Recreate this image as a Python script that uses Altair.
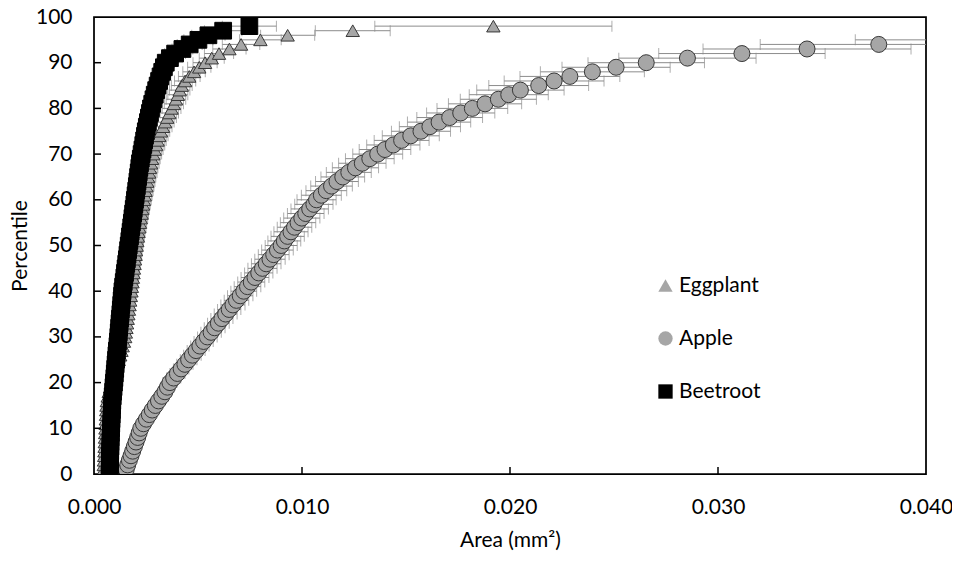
import altair as alt
import pandas as pd

series_names = ["Eggplant", "Apple", "Beetroot"]

# percentile levels
eggplant_pct = list(range(0, 99))
apple_pct = list(range(0, 96))
beetroot_pct = list(range(0, 99))

eggplant_area = [
    0.00045, 0.00046, 0.00047, 0.00048, 0.00049, 0.00050, 0.00051, 0.00052, 0.00053, 0.00054,
    0.00055, 0.00056, 0.00057, 0.00058, 0.00059, 0.00060, 0.00062, 0.00066, 0.00071, 0.00077,
    0.00084, 0.00091, 0.00098, 0.00105, 0.00112, 0.00119, 0.00126, 0.00132, 0.00138, 0.00144,
    0.00150, 0.00153, 0.00156, 0.00159, 0.00162, 0.00165, 0.00168, 0.00171, 0.00174, 0.00177,
    0.00180, 0.00182, 0.00185, 0.00187, 0.00190, 0.00192, 0.00195, 0.00197, 0.00200, 0.00202,
    0.00205, 0.00208, 0.00211, 0.00214, 0.00218, 0.00221, 0.00225, 0.00229, 0.00232, 0.00236,
    0.00240, 0.00244, 0.00248, 0.00252, 0.00256, 0.00260, 0.00265, 0.00269, 0.00274, 0.00279,
    0.00285, 0.00292, 0.00299, 0.00306, 0.00314, 0.00322, 0.00332, 0.00342, 0.00352, 0.00362,
    0.00373, 0.00384, 0.00394, 0.00403, 0.00412, 0.00422, 0.00438, 0.00458, 0.00481, 0.00506,
    0.00534, 0.00566, 0.00601, 0.00651, 0.00707, 0.00800, 0.00931, 0.01244, 0.01920,
]
eggplant_err = [
    0.00010, 0.00010, 0.00010, 0.00011, 0.00011, 0.00011, 0.00012, 0.00012, 0.00012, 0.00013,
    0.00013, 0.00013, 0.00014, 0.00014, 0.00014, 0.00015, 0.00015, 0.00015, 0.00016, 0.00016,
    0.00016, 0.00017, 0.00017, 0.00017, 0.00018, 0.00018, 0.00018, 0.00019, 0.00019, 0.00019,
    0.00020, 0.00020, 0.00021, 0.00021, 0.00022, 0.00022, 0.00023, 0.00023, 0.00024, 0.00024,
    0.00025, 0.00025, 0.00026, 0.00026, 0.00027, 0.00027, 0.00028, 0.00028, 0.00029, 0.00029,
    0.00030, 0.00030, 0.00031, 0.00031, 0.00032, 0.00032, 0.00033, 0.00033, 0.00034, 0.00034,
    0.00035, 0.00035, 0.00036, 0.00036, 0.00037, 0.00037, 0.00038, 0.00038, 0.00039, 0.00039,
    0.00040, 0.00040, 0.00041, 0.00041, 0.00042, 0.00042, 0.00043, 0.00043, 0.00044, 0.00044,
    0.00045, 0.00046, 0.00047, 0.00048, 0.00049, 0.00050, 0.00051, 0.00052, 0.00054, 0.00056,
    0.00058, 0.00060, 0.00070, 0.00080, 0.00090, 0.00100, 0.00130, 0.00180, 0.00570,
]

apple_area = [
    0.00150, 0.00155, 0.00162, 0.00170, 0.00178, 0.00186, 0.00194, 0.00202, 0.00210, 0.00217,
    0.00225, 0.00238, 0.00252, 0.00266, 0.00280, 0.00295, 0.00310, 0.00326, 0.00341, 0.00353,
    0.00365, 0.00383, 0.00401, 0.00419, 0.00437, 0.00455, 0.00473, 0.00491, 0.00509, 0.00527,
    0.00545, 0.00563, 0.00580, 0.00598, 0.00615, 0.00633, 0.00650, 0.00668, 0.00685, 0.00703,
    0.00720, 0.00738, 0.00756, 0.00774, 0.00792, 0.00810, 0.00828, 0.00846, 0.00864, 0.00882,
    0.00900, 0.00915, 0.00931, 0.00947, 0.00964, 0.00981, 0.00999, 0.01018, 0.01037, 0.01057,
    0.01070, 0.01093, 0.01117, 0.01142, 0.01168, 0.01196, 0.01225, 0.01257, 0.01290, 0.01326,
    0.01364, 0.01399, 0.01439, 0.01479, 0.01523, 0.01572, 0.01615, 0.01659, 0.01710, 0.01763,
    0.01819, 0.01880, 0.01944, 0.01994, 0.02050, 0.02138, 0.02212, 0.02288, 0.02396, 0.02510,
    0.02655, 0.02853, 0.03115, 0.03428, 0.03773, 0.04250,
]
apple_err = [
    0.00008, 0.00009, 0.00010, 0.00011, 0.00012, 0.00013, 0.00014, 0.00015, 0.00016, 0.00017,
    0.00018, 0.00020, 0.00021, 0.00023, 0.00024, 0.00026, 0.00027, 0.00029, 0.00030, 0.00031,
    0.00033, 0.00034, 0.00036, 0.00037, 0.00039, 0.00040, 0.00042, 0.00043, 0.00044, 0.00046,
    0.00047, 0.00049, 0.00050, 0.00052, 0.00053, 0.00055, 0.00056, 0.00058, 0.00059, 0.00061,
    0.00062, 0.00064, 0.00065, 0.00067, 0.00068, 0.00070, 0.00071, 0.00073, 0.00074, 0.00076,
    0.00077, 0.00079, 0.00080, 0.00082, 0.00083, 0.00085, 0.00087, 0.00088, 0.00090, 0.00092,
    0.00094, 0.00096, 0.00098, 0.00100, 0.00103, 0.00105, 0.00108, 0.00111, 0.00114, 0.00117,
    0.00120, 0.00124, 0.00128, 0.00132, 0.00137, 0.00142, 0.00147, 0.00152, 0.00158, 0.00164,
    0.00170, 0.00176, 0.00183, 0.00190, 0.00210, 0.00240, 0.00240, 0.00240, 0.00250, 0.00260,
    0.00280, 0.00330, 0.00400, 0.00500, 0.00570, 0.00590,
]

beetroot_area = [
    0.00075, 0.00076, 0.00076, 0.00077, 0.00077, 0.00078, 0.00079, 0.00079, 0.00080, 0.00081,
    0.00082, 0.00083, 0.00084, 0.00085, 0.00086, 0.00087, 0.00088, 0.00090, 0.00092, 0.00094,
    0.00096, 0.00098, 0.00100, 0.00102, 0.00104, 0.00106, 0.00108, 0.00110, 0.00113, 0.00115,
    0.00117, 0.00119, 0.00121, 0.00123, 0.00125, 0.00127, 0.00129, 0.00131, 0.00133, 0.00135,
    0.00137, 0.00140, 0.00143, 0.00146, 0.00149, 0.00152, 0.00155, 0.00158, 0.00161, 0.00164,
    0.00167, 0.00170, 0.00173, 0.00176, 0.00179, 0.00182, 0.00185, 0.00188, 0.00191, 0.00194,
    0.00197, 0.00200, 0.00203, 0.00206, 0.00209, 0.00212, 0.00215, 0.00218, 0.00221, 0.00225,
    0.00229, 0.00233, 0.00237, 0.00241, 0.00245, 0.00249, 0.00254, 0.00259, 0.00264, 0.00269,
    0.00274, 0.00280, 0.00286, 0.00292, 0.00299, 0.00306, 0.00313, 0.00320, 0.00328, 0.00336,
    0.00345, 0.00365, 0.00390, 0.00425, 0.00460, 0.00502, 0.00550, 0.00621, 0.00747,
]
beetroot_err = [
    0.00005, 0.00005, 0.00005, 0.00006, 0.00006, 0.00006, 0.00007, 0.00007, 0.00007, 0.00008,
    0.00008, 0.00008, 0.00009, 0.00009, 0.00009, 0.00010, 0.00010, 0.00010, 0.00011, 0.00011,
    0.00011, 0.00012, 0.00012, 0.00012, 0.00013, 0.00013, 0.00013, 0.00014, 0.00014, 0.00014,
    0.00015, 0.00015, 0.00015, 0.00016, 0.00016, 0.00016, 0.00017, 0.00017, 0.00017, 0.00018,
    0.00018, 0.00018, 0.00019, 0.00019, 0.00019, 0.00020, 0.00020, 0.00020, 0.00021, 0.00021,
    0.00021, 0.00022, 0.00022, 0.00023, 0.00023, 0.00024, 0.00024, 0.00025, 0.00025, 0.00026,
    0.00026, 0.00027, 0.00027, 0.00028, 0.00028, 0.00029, 0.00029, 0.00030, 0.00030, 0.00031,
    0.00031, 0.00032, 0.00032, 0.00033, 0.00033, 0.00034, 0.00034, 0.00035, 0.00035, 0.00036,
    0.00036, 0.00037, 0.00037, 0.00038, 0.00038, 0.00039, 0.00039, 0.00040, 0.00040, 0.00041,
    0.00041, 0.00042, 0.00050, 0.00050, 0.00060, 0.00070, 0.00080, 0.00090, 0.00130,
]

x_tick_values = [0.0, 0.01, 0.02, 0.03, 0.04]
y_tick_values = [0, 10, 20, 30, 40, 50, 60, 70, 80, 90, 100]
x_inner_ticks = [0.01, 0.02, 0.03]
y_inner_ticks = [10, 20, 30, 40, 50, 60, 70, 80, 90]

FONT = "Lato"
W, H = 832, 457

rows = []
for name, pcts, areas, errs in [
    ("Eggplant", eggplant_pct, eggplant_area, eggplant_err),
    ("Apple", apple_pct, apple_area, apple_err),
    ("Beetroot", beetroot_pct, beetroot_area, beetroot_err),
]:
    for p, a, e in zip(pcts, areas, errs):
        rows.append({"series": name, "pct": p, "area": a, "lo": a - e, "hi": a + e})
df = pd.DataFrame(rows)

caps = pd.concat([
    df[["series", "pct", "lo"]].rename(columns={"lo": "cx"}),
    df[["series", "pct", "hi"]].rename(columns={"hi": "cx"}),
], ignore_index=True)

xscale = alt.Scale(domain=[0, 0.04], nice=False, zero=False, padding=0)
yscale = alt.Scale(domain=[0, 100], nice=False, padding=0)

x_axis = alt.Axis(
    values=x_tick_values, format=".3f", grid=False, ticks=False, domain=False,
    labelFlush=False, labelOverlap=False,
    labelFont=FONT, labelFontSize=21, labelColor="#000", labelPadding=22,
    title="Area (mm²)", titleFont=FONT, titleFontSize=21, titleFontWeight="normal",
    titleColor="#000", titleX=W / 2, titleY=66, titleBaseline="middle",
)
y_axis = alt.Axis(
    values=y_tick_values, grid=False, ticks=False, domain=False,
    labelFlush=False, labelOverlap=False,
    labelFont=FONT, labelFontSize=21, labelColor="#000", labelPadding=22,
    title="Percentile", titleFont=FONT, titleFontSize=21, titleFontWeight="normal",
    titleColor="#000", titleX=-74, titleY=H / 2, titleBaseline="middle", titleAlign="center",
)

ERR_COLOR = "#8c8c8c"

bars = alt.Chart(df).mark_rule(color=ERR_COLOR, strokeWidth=1, clip=True).encode(
    x=alt.X("lo:Q", scale=xscale, axis=x_axis),
    x2="hi:Q",
    y=alt.Y("pct:Q", scale=yscale, axis=y_axis),
)
cap_marks = alt.Chart(caps).mark_tick(
    color=ERR_COLOR, orient="vertical", size=11, thickness=1, clip=True
).encode(
    x=alt.X("cx:Q", scale=xscale),
    y=alt.Y("pct:Q", scale=yscale),
)

leg = alt.Legend(
    title=None, orient="none", legendX=561, legendY=258,
    labelFont=FONT, labelFontSize=21, labelColor="#000", symbolSize=205,
    rowPadding=31, labelOffset=3, symbolStrokeColor="#333333", symbolStrokeWidth=1,
)

points = alt.Chart(df).mark_point(filled=True, opacity=1, strokeWidth=1, clip=True).encode(
    x=alt.X("area:Q", scale=xscale),
    y=alt.Y("pct:Q", scale=yscale),
    shape=alt.Shape("series:N", scale=alt.Scale(domain=series_names, range=["triangle-up", "circle", "square"]),
                    legend=leg),
    fill=alt.Fill("series:N", scale=alt.Scale(domain=series_names, range=["#a6a6a6", "#a6a6a6", "#000000"]),
                  legend=leg),
    stroke=alt.StrokeValue("#383838", condition={"test": "datum.series === 'Beetroot'", "value": "#000000"}),
    size=alt.SizeValue(256, condition=[{"test": "datum.series === 'Beetroot'", "value": 280},
                                       {"test": "datum.series === 'Eggplant'", "value": 180}]),
)

ytick_df = pd.DataFrame({"t": y_inner_ticks})
xtick_df = pd.DataFrame({"t": x_inner_ticks})
ytick_rules = alt.Chart(ytick_df).mark_rule(color="#000", strokeWidth=1.5).encode(
    y=alt.Y("t:Q", scale=yscale), x=alt.value(0), x2=alt.value(7)
)
xtick_rules = alt.Chart(xtick_df).mark_rule(color="#000", strokeWidth=1.5).encode(
    x=alt.X("t:Q", scale=xscale), y=alt.value(H), y2=alt.value(H - 7)
)

chart = alt.layer(bars, cap_marks, points, ytick_rules, xtick_rules).properties(
    width=W, height=H,
    background="white",
    autosize=alt.AutoSizeParams(type="none"),
    padding={"left": 86, "top": 9, "right": 26, "bottom": 89},
).configure_view(
    stroke="#000", strokeWidth=1.75
)

chart.save("out.html", embed_options={"renderer": "svg", "actions": False})
